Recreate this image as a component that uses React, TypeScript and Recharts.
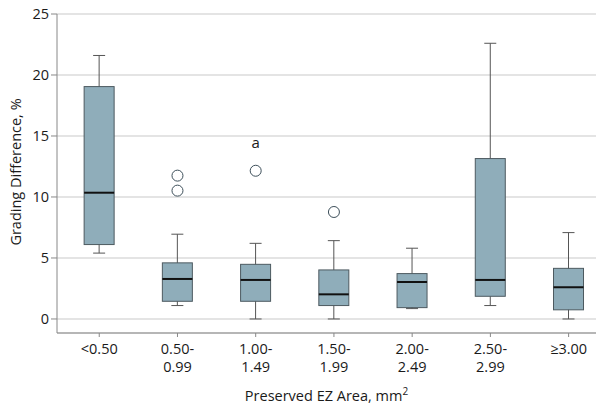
import { ComposedChart, Bar, Scatter, XAxis, YAxis, CartesianGrid, ReferenceDot } from 'recharts';

const categories = ['<0.50', '0.50-\n0.99', '1.00-\n1.49', '1.50-\n1.99', '2.00-\n2.49', '2.50-\n2.99', '≥3.00'];
const whiskerLow = [5.4, 1.1, 0, 0, 0.85, 1.1, 0];
const quartile1 = [6.1, 1.45, 1.45, 1.1, 0.93, 1.86, 0.75];
const medians = [10.35, 3.28, 3.2, 2.02, 3.03, 3.2, 2.6];
const quartile3 = [19.05, 4.6, 4.48, 4.02, 3.72, 13.15, 4.15];
const whiskerHigh = [21.6, 6.95, 6.2, 6.42, 5.8, 22.6, 7.08];
const outliers = [
  { x: 1, y: 11.75 },
  { x: 1, y: 10.52 },
  { x: 2, y: 12.15 },
  { x: 3, y: 8.77 },
];
const annotations = [{ x: 2, y: 14.45, text: 'a' }];
const yTicks = [0, 5, 10, 15, 20, 25];

const FONT = '"Open Sans", sans-serif';
const FS = 14.5;

const data = categories.map((c, i) => ({
  x: i,
  name: c,
  min: whiskerLow[i],
  q1: quartile1[i],
  median: medians[i],
  q3: quartile3[i],
  max: whiskerHigh[i],
  range: [whiskerLow[i], whiskerHigh[i]],
}));

const BoxShape = (props: any) => {
  const { x, y, width, height, payload } = props;
  const { min, max, q1, q3, median } = payload;
  const py = (v: number) => y + ((max - v) / (max - min)) * height;
  const cx = x + width / 2;
  const cap = 12;
  return (
    <g>
      <line x1={cx} x2={cx} y1={py(max)} y2={py(min)} stroke="#555" strokeWidth={1} />
      <line x1={cx - cap / 2} x2={cx + cap / 2} y1={py(max)} y2={py(max)} stroke="#555" strokeWidth={1} />
      <line x1={cx - cap / 2} x2={cx + cap / 2} y1={py(min)} y2={py(min)} stroke="#555" strokeWidth={1} />
      <rect x={x} y={py(q3)} width={width} height={py(q1) - py(q3)} fill="#8fadba" stroke="#4d5a60" strokeWidth={1} />
      <line x1={x} x2={x + width} y1={py(median)} y2={py(median)} stroke="#111" strokeWidth={2} />
    </g>
  );
};

const OutlierShape = (props: any) => {
  const { cx, cy } = props;
  return <circle cx={cx} cy={cy} r={5.5} fill="#fff" stroke="#3d4f5a" strokeWidth={1} />;
};

const XTick = (props: any) => {
  const { x, y, payload } = props;
  const lines = categories[payload.value].split('\n');
  return (
    <text x={x} y={y} textAnchor="middle" fontFamily={FONT} fontSize={FS} fill="#1a1a1a">
      {lines.map((l, i) => (
        <tspan key={i} x={x} dy={i === 0 ? 15 : 18}>
          {l}
        </tspan>
      ))}
    </text>
  );
};

const XLabel = (props: any) => {
  const { viewBox } = props;
  const cx = viewBox.x + viewBox.width / 2;
  return (
    <text x={cx} y={401} textAnchor="middle" fontFamily={FONT} fontSize={FS} fill="#1a1a1a">
      Preserved EZ Area, mm
      <tspan dy={-6} fontSize={10}>2</tspan>
    </text>
  );
};

const YLabel = () => (
  <text x={21} y={172} textAnchor="middle" fontFamily={FONT} fontSize={FS} fill="#1a1a1a" transform="rotate(-90, 21, 172)">
    Grading Difference, %
  </text>
);

export default function App() {
  return (
    <div style={{ position: 'absolute', left: 0, top: 0, background: '#fff' }}>
      <ComposedChart width={604} height={410} data={data} margin={{ top: 14, right: 8, bottom: 0, left: 0 }}>
        <CartesianGrid vertical={false} stroke="#e4e4e4" strokeWidth={2} />
        <XAxis
          dataKey="x"
          type="number"
          domain={[-0.54, 6.35]}
          ticks={[0, 1, 2, 3, 4, 5, 6]}
          tick={<XTick />}
          tickSize={4}
          height={77}
          stroke="#888"
          label={<XLabel />}
          allowDataOverflow
        />
        <YAxis
          domain={[-1.15, 25]}
          ticks={yTicks}
          width={57}
          tickSize={6}
          stroke="#888"
          tick={{ fontFamily: FONT, fontSize: FS, fill: '#1a1a1a' }}
          label={<YLabel />}
          allowDataOverflow
        />
        <Bar dataKey="range" barSize={30} shape={<BoxShape />} isAnimationActive={false} />
        <Scatter data={outliers} dataKey="y" shape={<OutlierShape />} isAnimationActive={false} />
        {annotations.map((a, i) => (
          <ReferenceDot
            key={i}
            x={a.x}
            y={a.y}
            r={0}
            stroke="none"
            fill="none"
            label={{ value: a.text, position: 'center', fontFamily: FONT, fontSize: 15, fill: '#1a1a1a' }}
          />
        ))}
      </ComposedChart>
    </div>
  );
}
